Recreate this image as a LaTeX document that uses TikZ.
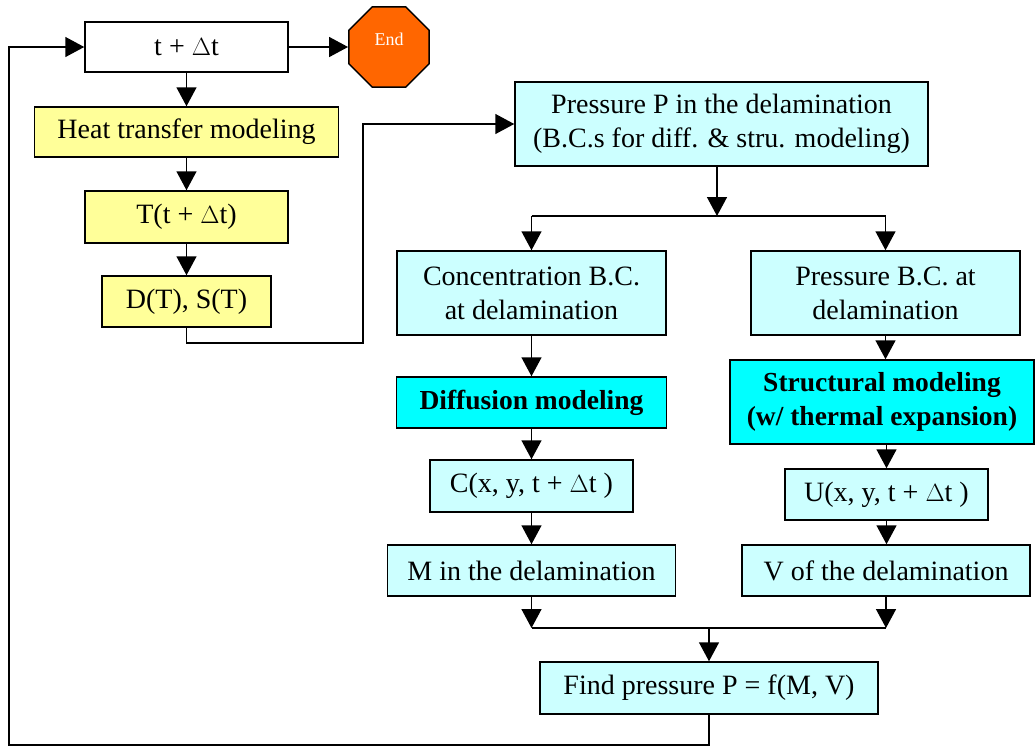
\documentclass[tikz,border=0pt]{standalone}
\usepackage{fontspec}
\setmainfont{Liberation Serif}
\usetikzlibrary{arrows.meta,shapes.geometric}
\definecolor{lyellow}{HTML}{FFFF99}
\definecolor{lcyan}{HTML}{CCFFFF}
\definecolor{bcyan}{HTML}{00FFFF}
\definecolor{endorange}{HTML}{FF6600}
\tikzset{
  box/.style={draw=black, line width=1.5pt, inner sep=0pt, align=center,
    font=\fontsize{28}{34}\selectfont},
  ybox/.style={box, fill=lyellow},
  cbox/.style={box, fill=lcyan},
  bbox/.style={box, fill=bcyan, font=\fontsize{27.5}{34}\selectfont\bfseries},
  wh/.style 2 args={minimum width=#1pt, minimum height=#2pt},
  conn/.style={line width=1.5pt, draw=black},
  arr/.style={conn, -{Triangle[length=19pt,width=20pt]}},
}
\begin{document}
\begin{tikzpicture}[x=1pt,y=-1pt]
\useasboundingbox (0,0) rectangle (1035,748);
% left column
\node[box, fill=white, wh={203}{50}] (tdt) at (186.5,47) {t + $\Delta$t};
\node[regular polygon, regular polygon sides=8, minimum size=87pt, inner sep=0pt,
      draw=black, line width=1.5pt, fill=endorange] (endo) at (389,47) {};
\node[text=white, font=\fontsize{18}{20}\selectfont] (endt) at (389,39) {End};
\node[ybox, wh={304}{50}] (heat) at (186.5,132) {Heat transfer modeling};
\node[ybox, wh={203}{52}] (tt) at (186.5,217) {T(t + $\Delta$t)};
\node[ybox, wh={169}{51}] (ds) at (186.5,301.5) {D(T), S(T)};
% right part
\node[cbox, wh={413}{84}] (pp) at (721.5,124) {Pressure P in the delamination\\(B.C.s for diff. \& stru. modeling)};
\node[cbox, wh={269}{84}] (conc) at (531.5,293) {Concentration B.C.\\at delamination};
\node[cbox, wh={269}{84}] (pbc) at (885.5,293) {Pressure B.C. at\\delamination};
\node[bbox, wh={270}{51}] (diff) at (531.5,402.5) {Diffusion modeling};
\node[bbox, wh={304}{84}] (struct) at (882,402) {Structural modeling\\(w/ thermal expansion)};
\node[cbox, wh={203}{52}] (cx) at (531.5,486) {C(x, y, t + $\Delta$t )};
\node[cbox, wh={203}{51}] (ux) at (886.5,494.5) {U(x, y, t + $\Delta$t )};
\node[cbox, wh={288}{51}] (mdel) at (531.5,570.5) {M in the delamination};
\node[cbox, wh={288}{51}] (vdel) at (886,570.5) {V of the delamination};
\node[cbox, wh={338}{52}] (find) at (709,688) {Find pressure P = f(M, V)};
% coordinates
\coordinate (loopL) at (9,745);
\coordinate (dsR) at (363,343);
\coordinate (br) at (717,216);
\coordinate (brL) at (531.5,216);
\coordinate (brR) at (885.5,216);
\coordinate (jn) at (709,628);
\coordinate (jnL) at (531.5,628);
\coordinate (jnR) at (886,628);
% left connectors
\draw[arr] (tdt.east) -- (endo.west);
\draw[arr] (tdt.south) -- (heat.north);
\draw[arr] (heat.south) -- (tt.north);
\draw[arr] (tt.south) -- (ds.north);
\draw[arr] (ds.south) -- (ds.south |- dsR) -- (dsR) |- (pp.west);
% branching
\draw[arr] (pp.south -| br) -- (br);
\draw[conn] (brL) -- (brR);
\draw[arr] (brL) -- (conc.north);
\draw[arr] (brR) -- (pbc.north);
\draw[arr] (conc.south) -- (diff.north);
\draw[arr] (pbc.south) -- (pbc.south |- struct.north);
\draw[arr] (diff.south) -- (cx.north);
\draw[arr] (struct.south -| ux.north) -- (ux.north);
\draw[arr] (cx.south) -- (cx.south |- mdel.north);
\draw[arr] (ux.south) -- (ux.south |- vdel.north);
\draw[arr] (mdel.south) -- (jnL);
\draw[arr] (vdel.south) -- (jnR);
\draw[conn] (jnL) -- (jnR);
\draw[arr] (jn) -- (find.north -| jn);
% loop back
\draw[arr] (find.south -| jn) -- (jn |- loopL) -- (loopL) |- (tdt.west);
\end{tikzpicture}
\end{document}
